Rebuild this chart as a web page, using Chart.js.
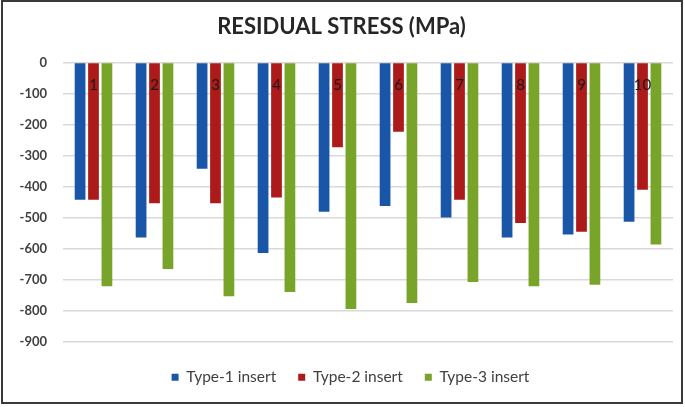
<!DOCTYPE html>
<html>
<head>
<meta charset="utf-8">
<script src="https://cdn.jsdelivr.net/npm/chart.js@4"></script>
<style>
  body { margin: 0; background: #fff; }
  .frame {
    position: absolute; left: 1px; top: 0px;
    width: 682px; height: 404px;
    box-sizing: border-box;
    border: 2px solid #3a3a3a;
  }
  .wrap { position: absolute; left: 0; top: 0; width: 685px; height: 407px; }
</style>
</head>
<body>
<div class="wrap"><canvas id="chart"></canvas></div>
<div class="frame"></div>
<script>
const categories = ['1', '2', '3', '4', '5', '6', '7', '8', '9', '10'];
const type1 = [-443, -565, -343, -615, -482, -463, -500, -565, -555, -514];
const type2 = [-443, -454, -454, -436, -274, -224, -443, -518, -546, -411];
const type3 = [-722, -666, -754, -740, -795, -776, -708, -722, -717, -587];
const yTicks = [0, -100, -200, -300, -400, -500, -600, -700, -800, -900];

const ctx = document.getElementById('chart').getContext('2d');
const barOpts = { barPercentage: 0.8, categoryPercentage: 0.66 };

// nudge the legend a little to the right, like the original
const legendShift = {
  id: 'legendShift',
  afterLayout(chart) {
    chart.legend.left += 9;
    chart.legend.right += 9;
  }
};

new Chart(ctx, {
  type: 'bar',
  data: {
    labels: categories,
    datasets: [
      { label: 'Type-1 insert', data: type1, backgroundColor: '#1a56a8', ...barOpts },
      { label: 'Type-2 insert', data: type2, backgroundColor: '#ad1a1a', ...barOpts },
      { label: 'Type-3 insert', data: type3, backgroundColor: '#78a42a', ...barOpts }
    ]
  },
  plugins: [legendShift],
  options: {
    responsive: true,
    maintainAspectRatio: false,
    animation: false,
    layout: { padding: { left: 10, right: 12, top: 8, bottom: 12 } },
    plugins: {
      title: {
        display: true,
        text: 'RESIDUAL STRESS (MPa)',
        color: '#262626',
        font: { family: 'Lato', size: 22, weight: 'bold' },
        padding: { top: 6, bottom: 22 }
      },
      legend: {
        position: 'bottom',
        title: { display: true, text: ' ', font: { size: 5 }, padding: 0 },
        labels: {
          color: '#404040',
          font: { family: 'Lato', size: 15.5 },
          boxWidth: 7,
          boxHeight: 7,
          padding: 22
        }
      },
      tooltip: { enabled: false }
    },
    scales: {
      x: {
        position: { y: 0 },
        grid: { display: false, drawTicks: false },
        border: { display: false },
        ticks: { z: 1, autoSkip: false, color: '#1a1a1a', font: { family: 'Lato', size: 15 }, padding: 14 }
      },
      y: {
        min: -900,
        max: 0,
        afterBuildTicks: (axis) => { axis.ticks = yTicks.map(v => ({ value: v })); },
        grid: { color: '#d9d9d9', lineWidth: 1.5, drawTicks: false },
        border: { display: false },
        ticks: { color: '#404040', font: { family: 'Lato', size: 13, weight: 'bold' }, padding: 16 },
        afterFit: (axis) => { axis.width = 53; }
      }
    }
  }
});
</script>
</body>
</html>
